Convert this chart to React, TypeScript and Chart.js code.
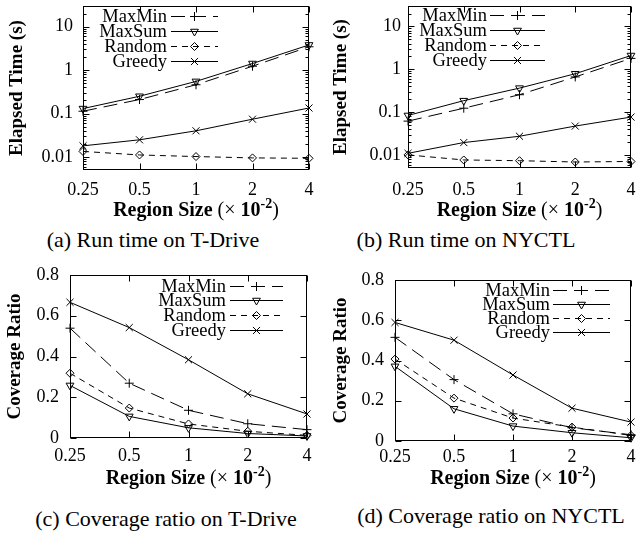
import React, { useEffect, useRef } from 'react';
import { Chart, registerables } from 'chart.js';

Chart.register(...registerables);

// ---------- data ----------
const regionSizes = ['0.25', '0.5', '1', '2', '4'];
const seriesNames = ['MaxMin', 'MaxSum', 'Random', 'Greedy'];

// (a) Run time on T-Drive (s)
const timeTDriveMaxMin = [0.113, 0.21, 0.46, 1.23, 3.45];
const timeTDriveMaxSum = [0.13, 0.25, 0.55, 1.42, 3.8];
const timeTDriveRandom = [0.0134, 0.0111, 0.0102, 0.0095, 0.0093];
const timeTDriveGreedy = [0.018, 0.0248, 0.04, 0.074, 0.134];

// (b) Run time on NYCTL (s)
const timeNyctlMaxMin = [0.062, 0.124, 0.256, 0.665, 1.8];
const timeNyctlMaxSum = [0.084, 0.186, 0.365, 0.79, 2.1];
const timeNyctlRandom = [0.0101, 0.0077, 0.0074, 0.0069, 0.0071];
const timeNyctlGreedy = [0.011, 0.0196, 0.0275, 0.0475, 0.077];

// (c) Coverage ratio on T-Drive
const covTDriveMaxMin = [0.539, 0.269, 0.136, 0.07, 0.041];
const covTDriveMaxSum = [0.258, 0.106, 0.05, 0.022, 0.01];
const covTDriveRandom = [0.318, 0.147, 0.069, 0.033, 0.013];
const covTDriveGreedy = [0.666, 0.542, 0.384, 0.217, 0.118];

// (d) Coverage ratio on NYCTL
const covNyctlMaxMin = [0.515, 0.305, 0.135, 0.066, 0.031];
const covNyctlMaxSum = [0.371, 0.16, 0.074, 0.041, 0.016];
const covNyctlRandom = [0.407, 0.213, 0.114, 0.069, 0.028];
const covNyctlGreedy = [0.589, 0.501, 0.328, 0.163, 0.094];

const timeTicks = [0.01, 0.1, 1, 10];
const ratioTicks = [0, 0.2, 0.4, 0.6, 0.8];

const captions = [
  '(a) Run time on T-Drive',
  '(b) Run time on NYCTL',
  '(c) Coverage ratio on T-Drive',
  '(d) Coverage ratio on NYCTL',
];

// ---------- styles ----------
const SERIF = '"Liberation Serif", "Times New Roman", serif';

type MarkerStyle = { pointStyle: string; rotation: number; radius: number; dash: number[] };
const seriesStyles: MarkerStyle[] = [
  { pointStyle: 'cross', rotation: 0, radius: 4.5, dash: [14, 7] },
  { pointStyle: 'triangle', rotation: 180, radius: 4.5, dash: [] },
  { pointStyle: 'rectRot', rotation: 0, radius: 4, dash: [6, 5] },
  { pointStyle: 'crossRot', rotation: 0, radius: 5, dash: [] },
];

function drawMarker(ctx: CanvasRenderingContext2D, st: MarkerStyle, x: number, y: number) {
  const r = st.radius;
  let rad = (st.rotation * Math.PI) / 180;
  ctx.beginPath();
  if (st.pointStyle === 'cross') {
    ctx.moveTo(x, y - r); ctx.lineTo(x, y + r);
    ctx.moveTo(x - r, y); ctx.lineTo(x + r, y);
  } else if (st.pointStyle === 'crossRot') {
    const o = Math.SQRT1_2 * r;
    ctx.moveTo(x - o, y - o); ctx.lineTo(x + o, y + o);
    ctx.moveTo(x + o, y - o); ctx.lineTo(x - o, y + o);
  } else if (st.pointStyle === 'triangle') {
    ctx.moveTo(x + Math.sin(rad) * r, y - Math.cos(rad) * r);
    rad += (2 * Math.PI) / 3;
    ctx.lineTo(x + Math.sin(rad) * r, y - Math.cos(rad) * r);
    rad += (2 * Math.PI) / 3;
    ctx.lineTo(x + Math.sin(rad) * r, y - Math.cos(rad) * r);
    ctx.closePath();
  } else {
    ctx.moveTo(x - r, y); ctx.lineTo(x, y - r); ctx.lineTo(x + r, y); ctx.lineTo(x, y + r);
    ctx.closePath();
  }
  ctx.stroke();
}

type PanelCfg = {
  left: number; top: number; width: number; height: number;
  yWidth: number; xHeight: number; padTop: number; padRight: number;
  log: boolean; yMin: number; yMax: number; yTicks: number[];
  yTitle: string; yTitleCenter: number; yTickPad: number; xTickPad: number; xTitleY: number;
  legendRight: number; sampleX0: number; sampleX1: number; legendRows: number[];
  series: number[][];
};

const panels: PanelCfg[] = [
  {
    left: 0, top: 0, width: 318, height: 225, yWidth: 83, xHeight: 55, padTop: 5, padRight: 9,
    log: true, yMin: 0.005, yMax: 30, yTicks: timeTicks, yTitle: 'Elapsed Time (s)', yTitleCenter: 17,
    yTickPad: 10, xTickPad: 9, xTitleY: 209,
    legendRight: 167, sampleX0: 171, sampleX1: 218, legendRows: [16, 31, 46, 61],
    series: [timeTDriveMaxMin, timeTDriveMaxSum, timeTDriveRandom, timeTDriveGreedy],
  },
  {
    left: 318, top: 0, width: 319, height: 225, yWidth: 90, xHeight: 57, padTop: 4, padRight: 4,
    log: true, yMin: 0.005, yMax: 30, yTicks: timeTicks, yTitle: 'Elapsed Time (s)', yTitleCenter: 23,
    yTickPad: 7, xTickPad: 11, xTitleY: 209,
    legendRight: 169, sampleX0: 172, sampleX1: 227, legendRows: [15, 30, 45, 60],
    series: [timeNyctlMaxMin, timeNyctlMaxSum, timeNyctlRandom, timeNyctlGreedy],
  },
  {
    left: 0, top: 260, width: 318, height: 240, yWidth: 70, xHeight: 62, padTop: 15, padRight: 11,
    log: false, yMin: 0, yMax: 0.8, yTicks: ratioTicks, yTitle: 'Coverage Ratio', yTitleCenter: 15,
    yTickPad: 11, xTickPad: 7, xTitleY: 217,
    legendRight: 226, sampleX0: 230, sampleX1: 283, legendRows: [26, 40, 55, 70],
    series: [covTDriveMaxMin, covTDriveMaxSum, covTDriveRandom, covTDriveGreedy],
  },
  {
    left: 318, top: 260, width: 319, height: 240, yWidth: 77, xHeight: 59, padTop: 20, padRight: 6,
    log: false, yMin: 0, yMax: 0.8, yTicks: ratioTicks, yTitle: 'Coverage Ratio', yTitleCenter: 23,
    yTickPad: 11, xTickPad: 5, xTitleY: 217,
    legendRight: 232, sampleX0: 235, sampleX1: 292, legendRows: [30, 44, 58, 72],
    series: [covNyctlMaxMin, covNyctlMaxSum, covNyctlRandom, covNyctlGreedy],
  },
];

const captionPos = [
  { cx: 153, cy: 240 },
  { cx: 466, cy: 240 },
  { cx: 166, cy: 519 },
  { cx: 491, cy: 516 },
];

function makePlugin(cfg: PanelCfg) {
  return {
    id: 'gnuframe',
    afterDraw(chart: any) {
      const { ctx, chartArea: a, scales } = chart;
      const xs = scales.x, ys = scales.y;
      ctx.save();
      ctx.strokeStyle = '#000';
      ctx.fillStyle = '#000';
      ctx.lineWidth = 1;
      ctx.setLineDash([]);
      const L = Math.round(a.left) + 0.5, R = Math.round(a.right) - 0.5;
      const T = Math.round(a.top) + 0.5, B = Math.round(a.bottom) - 0.5;
      ctx.strokeRect(L, T, R - L, B - T);
      ctx.beginPath();
      regionSizes.forEach((_, i) => {
        const px = Math.round(xs.getPixelForValue(i)) + 0.5;
        ctx.moveTo(px, B); ctx.lineTo(px, B - 6);
        ctx.moveTo(px, T); ctx.lineTo(px, T + 6);
      });
      cfg.yTicks.forEach((v) => {
        const py = Math.round(ys.getPixelForValue(v)) + 0.5;
        ctx.moveTo(L, py); ctx.lineTo(L + 6, py);
        ctx.moveTo(R, py); ctx.lineTo(R - 6, py);
      });
      if (cfg.log) {
        for (let d = -3; d <= 1; d++) {
          for (let m = 2; m <= 9; m++) {
            const v = m * Math.pow(10, d);
            if (v <= cfg.yMin || v >= cfg.yMax) continue;
            const py = Math.round(ys.getPixelForValue(v)) + 0.5;
            ctx.moveTo(L, py); ctx.lineTo(L + 3, py);
            ctx.moveTo(R, py); ctx.lineTo(R - 3, py);
          }
        }
      }
      ctx.stroke();

      // x-axis title with superscript
      const parts = [
        { t: 'Region Size ', w: 'bold', s: 20, dy: 0 },
        { t: '(\u00d7 ', w: 'normal', s: 20, dy: 0 },
        { t: '10', w: 'bold', s: 20, dy: 0 },
        { t: '-2', w: 'bold', s: 14, dy: -8 },
        { t: ')', w: 'normal', s: 20, dy: 0 },
      ];
      let total = 0;
      const widths = parts.map((p) => {
        ctx.font = `${p.w} ${p.s}px ${SERIF}`;
        const w = ctx.measureText(p.t).width;
        total += w;
        return w;
      });
      let cx = (a.left + a.right) / 2 - total / 2;
      const base = cfg.xTitleY + 6.5;
      ctx.textAlign = 'left';
      ctx.textBaseline = 'alphabetic';
      parts.forEach((p, i) => {
        ctx.font = `${p.w} ${p.s}px ${SERIF}`;
        ctx.fillText(p.t, cx, base + p.dy);
        cx += widths[i];
      });

      // key
      ctx.font = `18.5px ${SERIF}`;
      ctx.textAlign = 'right';
      ctx.textBaseline = 'middle';
      seriesNames.forEach((name, i) => {
        const y = cfg.legendRows[i];
        const st = seriesStyles[i];
        ctx.fillText(name, cfg.legendRight, y + 1);
        ctx.setLineDash(st.dash);
        ctx.beginPath();
        ctx.moveTo(cfg.sampleX0, y + 0.5);
        ctx.lineTo(cfg.sampleX1, y + 0.5);
        ctx.stroke();
        ctx.setLineDash([]);
        drawMarker(ctx, st, (cfg.sampleX0 + cfg.sampleX1) / 2, y + 0.5);
      });
      ctx.restore();
    },
  };
}

function Panel({ cfg }: { cfg: PanelCfg }) {
  const ref = useRef<HTMLCanvasElement | null>(null);
  useEffect(() => {
    if (!ref.current) return;
    const tickFont = { family: SERIF, size: 18 };
    const chart = new Chart(ref.current, {
      type: 'line',
      data: {
        labels: regionSizes,
        datasets: seriesNames.map((name, i) => ({
          label: name,
          data: cfg.series[i],
          borderColor: '#000',
          backgroundColor: 'rgba(0,0,0,0)',
          borderWidth: 1,
          borderDash: seriesStyles[i].dash,
          pointStyle: seriesStyles[i].pointStyle as any,
          pointRotation: seriesStyles[i].rotation,
          pointRadius: seriesStyles[i].radius,
          pointHoverRadius: seriesStyles[i].radius,
          pointBorderWidth: 1,
          pointBorderColor: '#000',
          pointBackgroundColor: 'rgba(0,0,0,0)',
          tension: 0,
          clip: false as any,
        })),
      },
      options: {
        responsive: false,
        maintainAspectRatio: false,
        animation: false,
        devicePixelRatio: 1,
        events: [],
        layout: { padding: { top: cfg.padTop, right: cfg.padRight, left: 0, bottom: 0 } },
        plugins: { legend: { display: false }, tooltip: { enabled: false } },
        scales: {
          x: {
            type: 'category',
            offset: false,
            grid: { display: false, drawTicks: false },
            border: { display: false },
            ticks: { font: tickFont, color: '#000', padding: cfg.xTickPad, maxRotation: 0, minRotation: 0, autoSkip: false },
            afterFit: (s: any) => { s.height = cfg.xHeight; s.paddingLeft = 0; s.paddingRight = 0; },
          },
          y: {
            type: cfg.log ? 'logarithmic' : 'linear',
            min: cfg.yMin,
            max: cfg.yMax,
            grid: { display: false, drawTicks: false },
            border: { display: false },
            ticks: { font: tickFont, color: '#000', padding: cfg.yTickPad, callback: (v: any) => String(v) },
            afterBuildTicks: (s: any) => { s.ticks = cfg.yTicks.map((v) => ({ value: v })); },
            afterFit: (s: any) => { s.width = cfg.yWidth; s.paddingTop = 0; s.paddingBottom = 0; },
            title: {
              display: true,
              text: cfg.yTitle,
              color: '#000',
              font: { family: SERIF, size: 19, weight: 'bold' },
              padding: { top: cfg.yTitleCenter - 11.4, bottom: 0 },
            },
          } as any,
        },
      },
      plugins: [makePlugin(cfg)],
    });
    return () => chart.destroy();
  }, [cfg]);
  return (
    <canvas
      ref={ref}
      width={cfg.width}
      height={cfg.height}
      style={{ position: 'absolute', left: cfg.left, top: cfg.top, width: cfg.width, height: cfg.height, display: 'block' }}
    />
  );
}

export default function App() {
  return (
    <div style={{ position: 'absolute', left: 0, top: 0, width: 637, height: 534, background: '#fff', overflow: 'hidden' }}>
      {panels.map((p, i) => (
        <Panel key={i} cfg={p} />
      ))}
      {captions.map((c, i) => (
        <div
          key={c}
          style={{
            position: 'absolute',
            left: captionPos[i].cx - 160,
            top: captionPos[i].cy - 13,
            width: 320,
            height: 26,
            lineHeight: '26px',
            textAlign: 'center',
            fontFamily: SERIF,
            fontSize: 22,
            color: '#000',
            whiteSpace: 'nowrap',
          }}
        >
          {c}
        </div>
      ))}
    </div>
  );
}
